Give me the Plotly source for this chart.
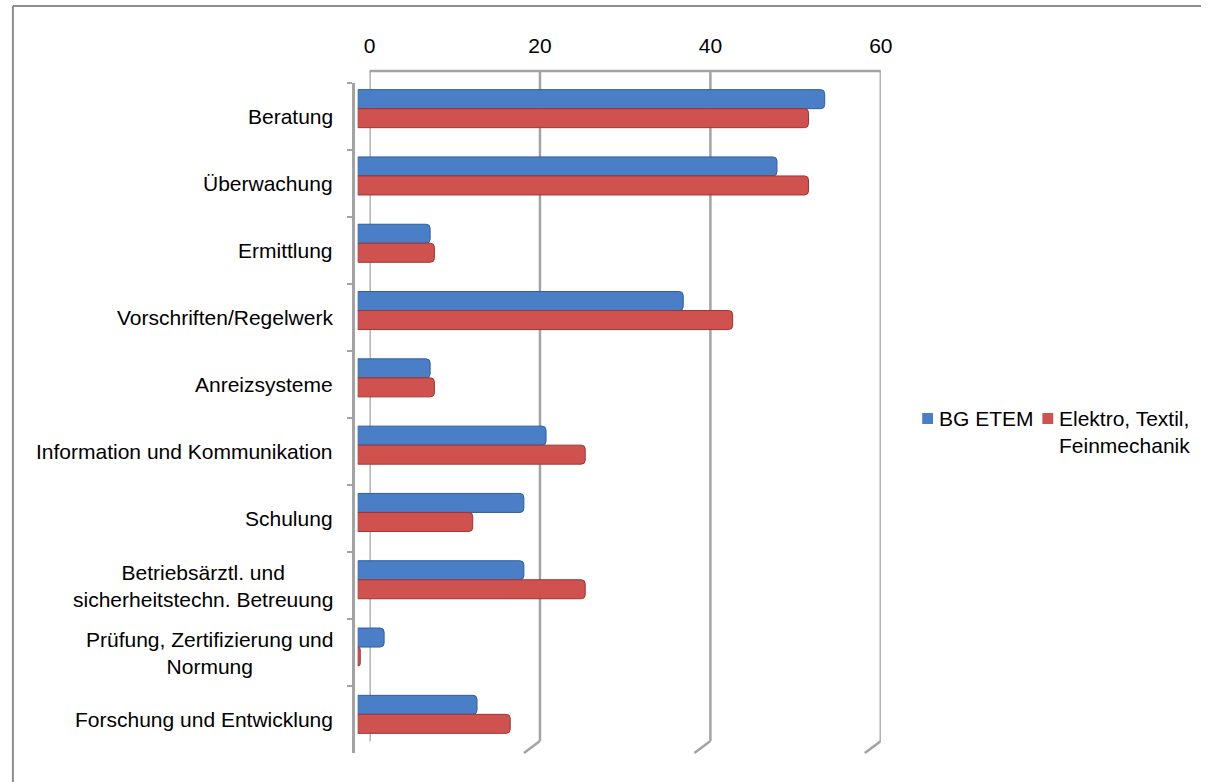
import plotly.graph_objects as go

W, H = 1213, 782

categories = [
    "Beratung",
    "Überwachung",
    "Ermittlung",
    "Vorschriften/Regelwerk",
    "Anreizsysteme",
    "Information und Kommunikation",
    "Schulung",
    "Betriebsärztl. und<br>sicherheitstechn. Betreuung",
    "Prüfung, Zertifizierung und<br>Normung",
    "Forschung und Entwicklung",
]
series_names = ["BG ETEM", "Elektro, Textil,<br>Feinmechanik"]
bg_etem = [54.8, 49.2, 8.5, 38.2, 8.5, 22.1, 19.5, 19.5, 3.1, 14.0]
elektro = [52.9, 52.9, 9.0, 44.0, 9.0, 26.7, 13.5, 26.7, 0.3, 17.9]
tick_values = [0, 20, 40, 60]
x_range = [0, 60]

colors = ["#4A7EC6", "#D0524F"]
line_colors = ["#2F5F9E", "#9E3532"]
grid_color = "#A3A3A3"
FONT = "Liberation Sans, Arial, sans-serif"


def px(x):
    return x / W


def py(y):
    return 1 - y / H


fig = go.Figure()
for name, vals, c, lc in zip(series_names, [bg_etem, elektro], colors, line_colors):
    fig.add_trace(go.Bar(
        y=categories, x=vals, orientation="h", name=name,
        marker=dict(color=c, line=dict(color=lc, width=1), cornerradius=4),
        xaxis="x", yaxis="y", showlegend=False,
    ))

# invisible helper trace for the wall/axis subplot
fig.add_trace(go.Scatter(
    y=categories, x=[0] * len(categories), mode="none",
    xaxis="x2", yaxis="y2", showlegend=False, hoverinfo="skip",
))

shapes = []
back_top, back_bot = 71, 741
# back-wall gridlines
for v in tick_values:
    shapes.append(dict(type="line", xref="x2", yref="paper", x0=v, x1=v,
                       y0=py(back_bot), y1=py(back_top), layer="below",
                       line=dict(color=grid_color, width=2.5)))
    # floor slant
    shapes.append(dict(type="line", xref="x2", yref="paper",
                       xsizemode="pixel", xanchor=v, x0=0, x1=-16,
                       ysizemode="pixel", yanchor=py(back_bot), y0=0, y1=-12,
                       layer="below", line=dict(color=grid_color, width=2.5)))
# back wall top line
shapes.append(dict(type="line", xref="x2", yref="paper", x0=x_range[0], x1=x_range[1],
                   y0=py(back_top), y1=py(back_top), layer="below",
                   line=dict(color=grid_color, width=2.5)))
# left wall top slant
shapes.append(dict(type="line", xref="x2", yref="paper",
                   xsizemode="pixel", xanchor=x_range[0], x0=0, x1=-16,
                   ysizemode="pixel", yanchor=py(back_top), y0=0, y1=-12,
                   layer="below", line=dict(color=grid_color, width=2.5)))
# chart border (top & left)
shapes.append(dict(type="line", xref="paper", yref="paper", x0=px(7), x1=1,
                   y0=py(6), y1=py(6), line=dict(color="#8C8C8C", width=2)))
shapes.append(dict(type="line", xref="paper", yref="paper", x0=px(7), x1=px(7),
                   y0=py(6), y1=0, line=dict(color="#8C8C8C", width=2)))

annotations = []
for cat in categories:
    annotations.append(dict(
        text=cat, xref="paper", yref="y2", x=px(334), y=cat,
        xanchor="right", yanchor="middle", align="center", showarrow=False,
        font=dict(family=FONT, size=21, color="#000000"),
    ))

# custom legend
leg_x = [930, 1052]
leg_y = 418.5
for name, c, lx in zip(series_names, colors, leg_x):
    shapes.append(dict(type="rect", xref="paper", yref="paper",
                       x0=px(lx), x1=px(lx + 11), y0=py(leg_y + 5.5), y1=py(leg_y - 5.5),
                       fillcolor=c, line=dict(width=0)))
    annotations.append(dict(
        text=name, xref="paper", yref="paper", x=px(lx + 15), y=py(leg_y - 13),
        xanchor="left", yanchor="top", align="left", showarrow=False,
        font=dict(family=FONT, size=21, color="#000000"),
    ))

fig.update_layout(
    width=W, height=H,
    margin=dict(l=0, r=0, t=0, b=0),
    paper_bgcolor="white", plot_bgcolor="rgba(0,0,0,0)",
    barmode="group", bargap=0.435, bargroupgap=0,
    showlegend=False,
    font=dict(family=FONT, size=21, color="#000000"),
    xaxis=dict(domain=[px(357), px(876)], range=x_range, visible=False,
               anchor="y"),
    yaxis=dict(domain=[py(748), py(75)], autorange="reversed", visible=False,
               anchor="x"),
    xaxis2=dict(domain=[px(369), px(888)], range=x_range, side="top",
                anchor="free", position=py(back_top),
                tickvals=tick_values, ticks="", showgrid=False, zeroline=False,
                showline=False, ticklabelstandoff=14,
                tickfont=dict(family=FONT, size=21, color="#000000")),
    yaxis2=dict(domain=[py(753), py(83)], autorange="reversed",
                anchor="free", position=px(352),
                showticklabels=False, ticks="outside", ticklen=5, tickwidth=1.5,
                tickcolor=grid_color, tickson="boundaries",
                showline=True, linecolor=grid_color, linewidth=2.5,
                showgrid=False, zeroline=False),
    shapes=shapes,
    annotations=annotations,
)

fig.write_html("out.html")
